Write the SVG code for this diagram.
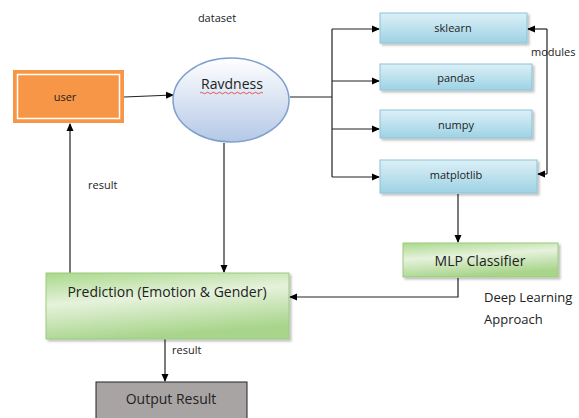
<svg xmlns="http://www.w3.org/2000/svg" width="579" height="418" viewBox="0 0 579 418">
<defs>
<linearGradient id="gBlue" x1="0" y1="0" x2="0" y2="1">
<stop offset="0" stop-color="#dcf0f7"/>
<stop offset="1" stop-color="#9ed2e4"/>
</linearGradient>
<linearGradient id="gGreen" x1="0" y1="0" x2="0.3" y2="1">
<stop offset="0" stop-color="#a9d98a"/>
<stop offset="0.45" stop-color="#e6f2dc"/>
<stop offset="1" stop-color="#a8d58b"/>
</linearGradient>
<linearGradient id="gEll" x1="0" y1="0" x2="0" y2="1">
<stop offset="0" stop-color="#ffffff"/>
<stop offset="1" stop-color="#b4c8e6"/>
</linearGradient>
<marker id="ah" markerWidth="8" markerHeight="8" refX="7" refY="4" orient="auto" markerUnits="userSpaceOnUse">
<path d="M0,0.5 L8,4 L0,7.5 Z" fill="#000"/>
</marker>
<filter id="sh" x="-5%" y="-10%" width="115%" height="130%">
<feDropShadow dx="2" dy="2" stdDeviation="1" flood-color="#000" flood-opacity="0.25"/>
</filter>
</defs>
<style>
text{font-family:"Open Sans","Noto Sans","Liberation Sans",sans-serif;fill:#222}
.sm{font-size:11px}
.md{font-size:13px}
.lg{font-size:14px}
.mod{fill:url(#gBlue);stroke:#8cc3d6;stroke-width:1;filter:url(#sh)}
.grn{fill:url(#gGreen);stroke:#9cc97c;stroke-width:1;filter:url(#sh)}
.c{fill:none;stroke:#222;stroke-width:1.2}
.ca{fill:none;stroke:#222;stroke-width:1.2;marker-end:url(#ah)}
</style>
<rect width="579" height="418" fill="#fff"/>
<text class="sm" x="217" y="22" text-anchor="middle">dataset</text>
<text class="sm" x="531" y="56">modules</text>
<text class="sm" x="88" y="189">result</text>
<text class="sm" x="172" y="354">result</text>
<text class="md" x="484" y="302">Deep Learning</text>
<text class="md" x="484" y="324">Approach</text>

<g id="connectors">
<path class="ca" d="M124,97 L173,95"/>
<path class="c" d="M290,97 L332,97"/>
<path class="c" d="M332,29 L332,177"/>
<path class="ca" d="M332,29 L379,29"/>
<path class="ca" d="M332,81 L379,81"/>
<path class="ca" d="M332,129 L379,129"/>
<path class="ca" d="M332,177 L379,177"/>
<path class="c" d="M547,29 L547,174"/>
<path class="ca" d="M547,29 L528,29"/>
<path class="ca" d="M547,174 L538,174"/>
<path class="ca" d="M458,194 L458,242"/>
<path class="ca" d="M458,278 L458,297 L290,297"/>
<path class="ca" d="M224,143 L224,272"/>
<path class="ca" d="M70,273 L70,124"/>
<path class="ca" d="M165,339 L165,381"/>
</g>

<g id="user">
<rect x="13" y="70" width="111" height="53" fill="#f79646"/>
<rect x="17.5" y="74.5" width="102" height="44" fill="#f79646" stroke="#fff" stroke-width="1.5"/>
<text class="sm" x="65" y="101" text-anchor="middle">user</text>
</g>

<g id="ravdness">
<ellipse cx="231" cy="100" rx="58" ry="42" fill="url(#gEll)" stroke="#7f9fcf" stroke-width="1.5"/>
<text class="lg" x="232" y="89" text-anchor="middle">Ravdness</text>
<path d="M200,93 q1.5,-1.5 3,0 t3,0 t3,0 t3,0 t3,0 t3,0 t3,0 t3,0 t3,0 t3,0 t3,0 t3,0 t3,0 t3,0 t3,0 t3,0 t3,0 t3,0 t3,0 t3,0 t3,0" fill="none" stroke="#e03030" stroke-width="0.8"/>
</g>

<g id="sklearn">
<rect class="mod" x="380" y="13" width="147" height="30"/>
<text class="sm" x="453" y="32" text-anchor="middle">sklearn</text>
</g>
<g id="pandas">
<rect class="mod" x="380" y="64" width="152" height="26"/>
<text class="sm" x="456" y="82" text-anchor="middle">pandas</text>
</g>
<g id="numpy">
<rect class="mod" x="380" y="110" width="152" height="28"/>
<text class="sm" x="456" y="129" text-anchor="middle">numpy</text>
</g>
<g id="matplotlib">
<rect class="mod" x="380" y="160" width="157" height="33"/>
<text class="sm" x="456" y="179" text-anchor="middle">matplotlib</text>
</g>

<g id="mlp">
<rect class="grn" x="403" y="243" width="155" height="34"/>
<text class="lg" x="480" y="266" text-anchor="middle">MLP Classifier</text>
</g>

<g id="prediction">
<rect class="grn" x="46" y="273" width="243" height="66"/>
<text class="lg" x="167" y="297" text-anchor="middle">Prediction (Emotion &amp; Gender)</text>
</g>

<g id="output">
<rect x="96" y="382" width="151" height="40" fill="#a8a4a4" stroke="#222" stroke-width="1"/>
<text class="lg" x="171" y="404" text-anchor="middle">Output Result</text>
</g>
</svg>
